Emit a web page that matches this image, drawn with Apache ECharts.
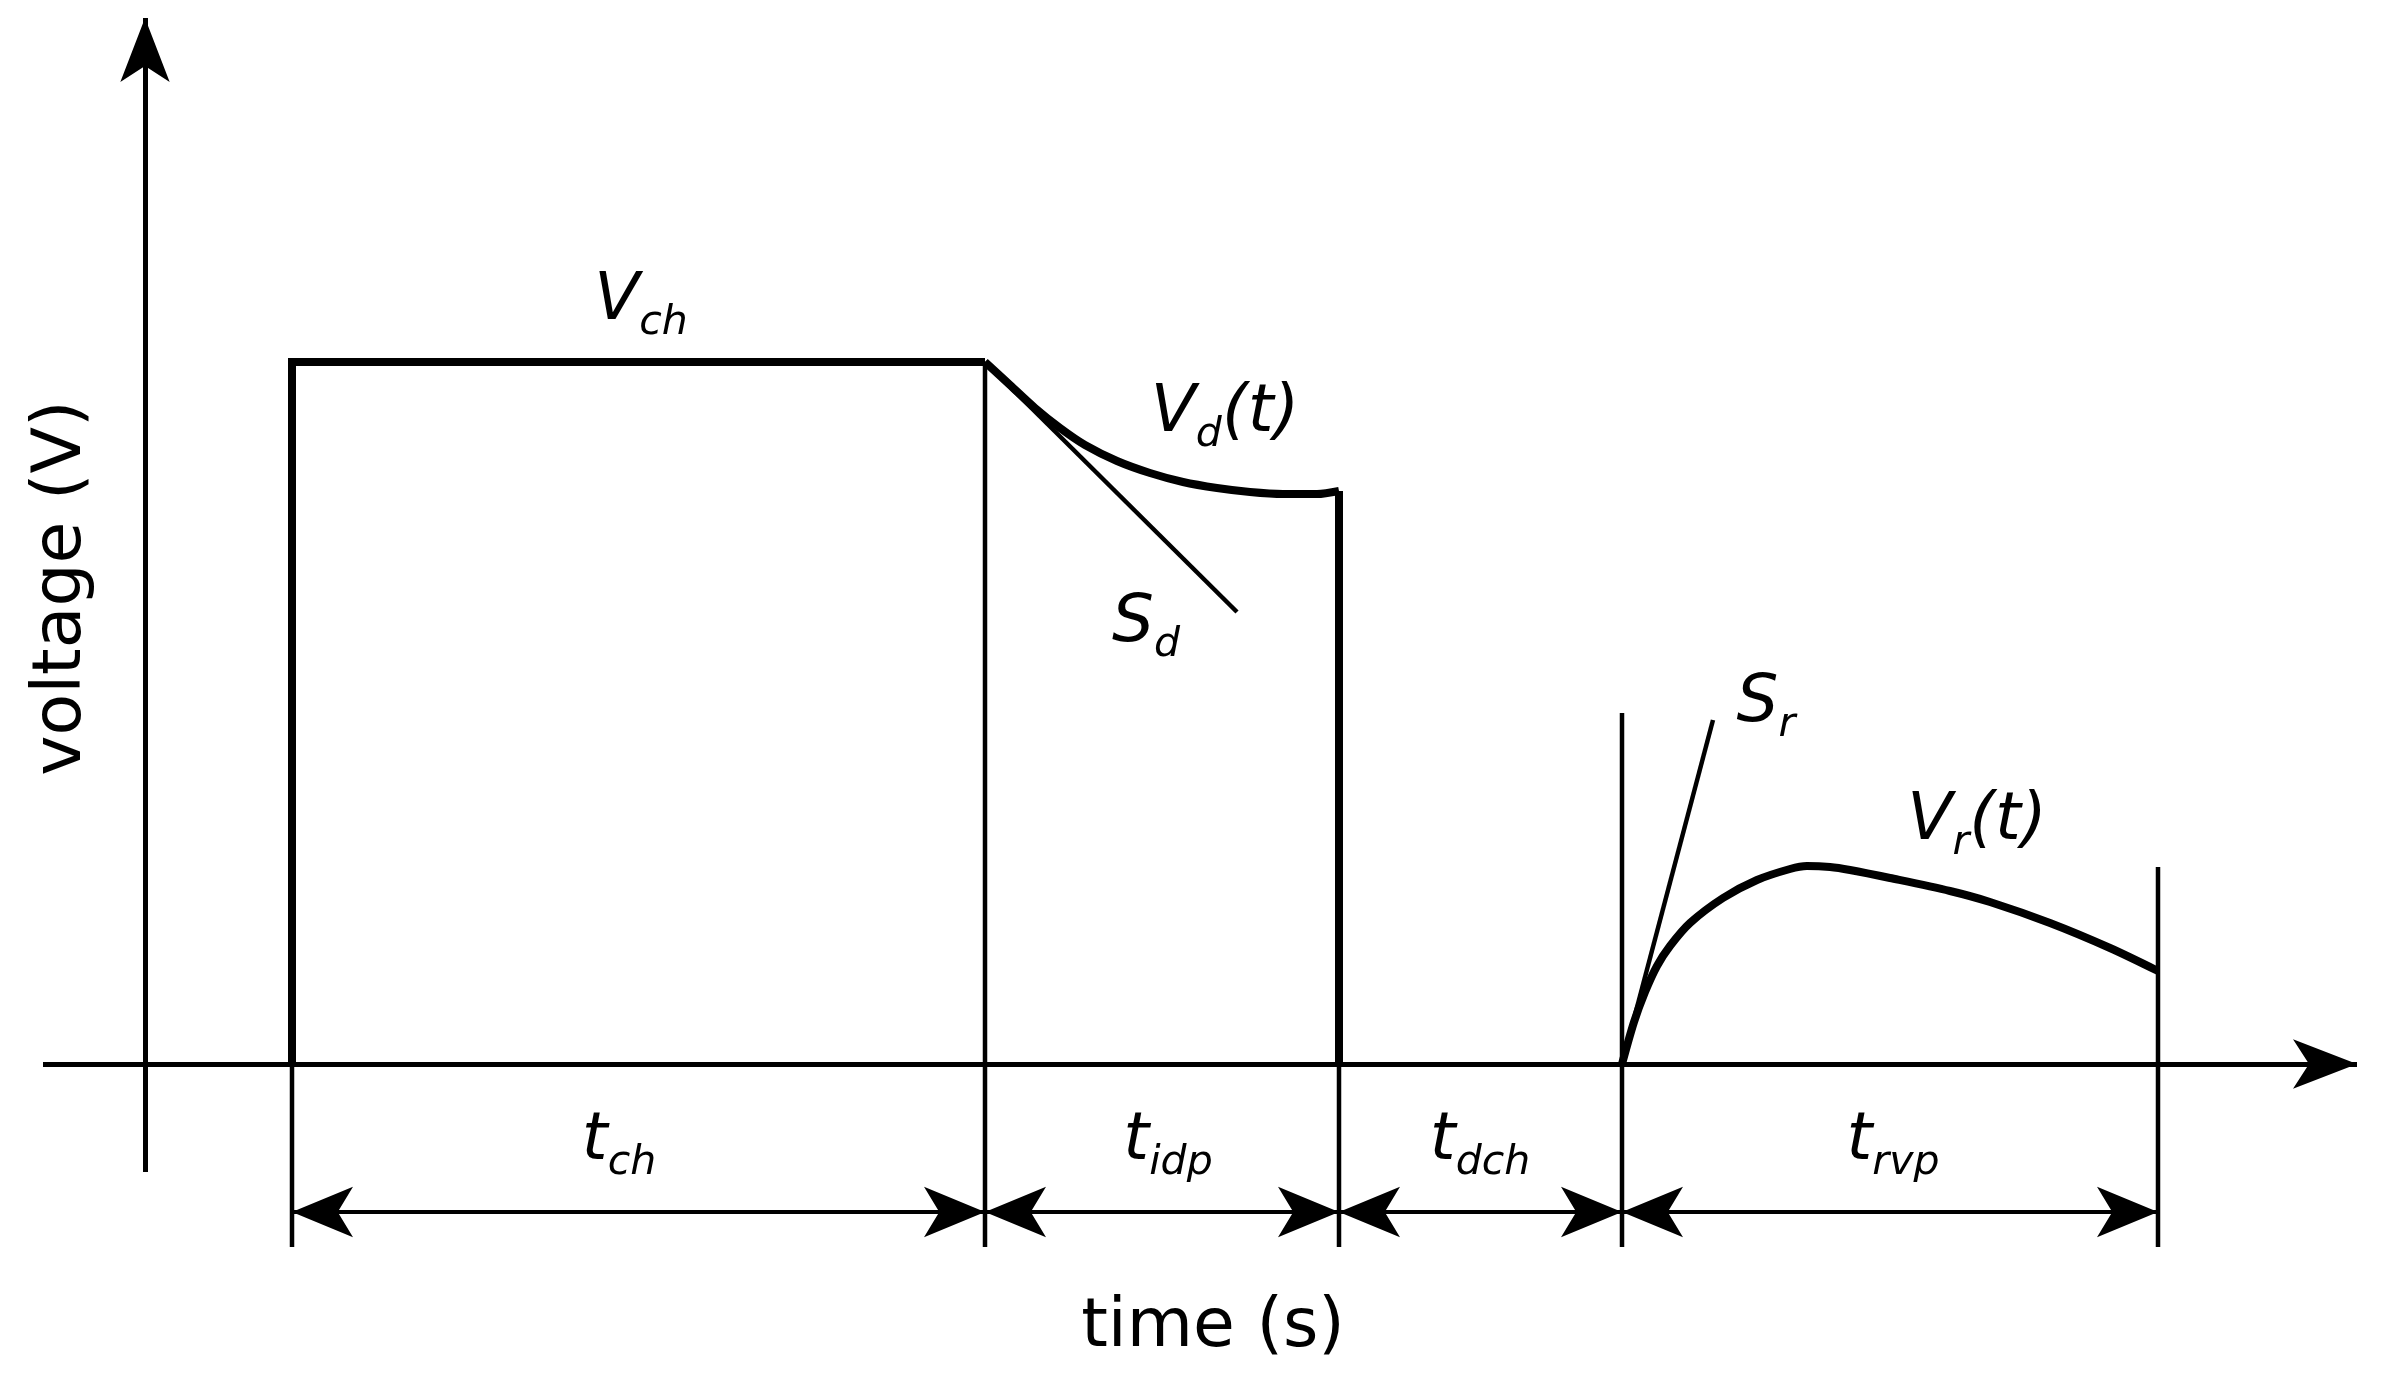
<!DOCTYPE html>
<html><head><meta charset="utf-8">
<script src="https://cdn.jsdelivr.net/npm/echarts@6/dist/echarts.min.js"></script>
<style>html,body{margin:0;padding:0;background:#fff}#c{width:2386px;height:1382px}</style>
</head><body><div id="c"></div>
<script>
// ---- data (time in arbitrary units, voltage in arbitrary units) ----
const pulseT = [1.47, 1.47, 8.40];
const pulseV = [0, 7.02, 7.02];
const decayT = [8.40, 8.65, 8.90, 9.15, 9.40, 9.72, 10.05, 10.38, 10.72, 11.05, 11.38, 11.72, 11.94];
const decayV = [7.02, 6.79, 6.56, 6.36, 6.19, 6.03, 5.91, 5.82, 5.76, 5.72, 5.70, 5.70, 5.73];
const dropT = [11.94, 11.94];
const dropV = [5.73, 0];
const recovT = [14.77, 14.89, 15.00, 15.12, 15.25, 15.45, 15.78, 16.12, 16.45, 16.62, 16.85, 17.05, 17.45, 18.05, 18.45, 19.05, 19.65, 20.13];
const recovV = [0, 0.42, 0.72, 0.98, 1.18, 1.41, 1.66, 1.84, 1.95, 1.98, 1.97, 1.94, 1.86, 1.73, 1.62, 1.41, 1.16, 0.93];
const slopeDT = [8.40, 10.92];
const slopeDV = [7.02, 4.52];
const slopeRT = [14.77, 15.68];
const slopeRV = [0, 3.44];
const boundaryT = [1.47, 8.40, 11.94, 14.77, 20.13];
const boundaryTop = [0, 7.02, 0, 3.51, 1.97];
const boundaryBottom = -1.83;
const dimLevel = -1.48;
const intervalSub = ['ch', 'idp', 'dch', 'rvp'];
const intervalLabelT = [4.74, 10.23, 13.35, 17.48];
const intervalLabelV = -0.78;
const labelBase = ['V', 'V', 'S', 'S', 'V'];
const labelSub = ['ch', 'd', 'd', 'r', 'r'];
const labelTail = ['', '(t)', '', '', '(t)'];
const labelT = [4.96, 10.80, 10.01, 16.21, 18.32];
const labelV = [7.62, 6.50, 4.40, 3.60, 2.42];
const xAxisSpan = [-1.02, 22.12];
const yAxisSpan = [-1.08, 10.46];
const xTitle = 'time (s)';
const yTitle = 'voltage (V)';
const xTitlePos = [10.68, -2.64];
const yTitlePos = [-0.83, 4.76];

// ---- chart ----
const FONT = 'DejaVu Sans';
const chart = echarts.init(document.getElementById('c'), null, {renderer: 'canvas'});
const pts = (ts, vs) => ts.map((t, i) => [t, vs[i]]);
function lineSeries(data, width, smooth) {
  return {type: 'line', data, symbol: 'none', showSymbol: false, smooth: smooth || false, clip: false, silent: true,
    lineStyle: {color: '#000', width, cap: 'butt', join: 'miter'}, z: 3};
}
const series = [];
series.push(lineSeries(pts(pulseT, pulseV), 8));
series.push(lineSeries(pts(decayT, decayV), 8, 0.3));
series.push(lineSeries(pts(dropT, dropV), 8));
series.push(lineSeries(pts(recovT, recovV), 8, 0.3));
series.push(lineSeries(pts(slopeDT, slopeDV), 4.5));
series.push(lineSeries(pts(slopeRT, slopeRV), 4.5));
boundaryT.forEach((t, i) => {
  series.push(lineSeries([[t, boundaryTop[i]], [t, boundaryBottom]], 4.5));
});
// axes drawn as marked arrows
series.push({type: 'line', data: [], clip: false, silent: true,
  markLine: {silent: true, symbol: ['none', 'arrow'], symbolSize: [37, 64],
    label: {show: false}, emphasis: {disabled: true},
    lineStyle: {color: '#000', width: 5, type: 'solid'},
    data: [
      [{coord: [xAxisSpan[0], 0]}, {coord: [xAxisSpan[1], 0]}],
      [{coord: [0, yAxisSpan[0]]}, {coord: [0, yAxisSpan[1]]}]
    ]}});
// dimension arrows
const dims = [];
for (let i = 0; i < boundaryT.length - 1; i++) dims.push([{coord: [boundaryT[i], dimLevel]}, {coord: [boundaryT[i + 1], dimLevel]}]);
series.push({type: 'line', data: [], clip: false, silent: true,
  markLine: {silent: true, symbol: ['arrow', 'arrow'], symbolSize: [38, 61],
    label: {show: false}, emphasis: {disabled: true},
    lineStyle: {color: '#000', width: 4, type: 'solid'},
    data: dims}});
const txt = {color: '#000', opacity: 1, textBorderWidth: 0, textBorderColor: 'transparent', textShadowBlur: 0};
const rich = {
  m: Object.assign({fontFamily: FONT, fontStyle: 'italic', fontSize: 66, lineHeight: 120}, txt),
  s: Object.assign({fontFamily: FONT, fontStyle: 'italic', fontSize: 41, padding: [42, 0, 0, 0]}, txt),
  p: Object.assign({fontFamily: FONT, fontSize: 68}, txt)
};
const textData = [];
labelBase.forEach((b, i) => {
  textData.push({value: [labelT[i], labelV[i]], name: '{m|' + b + '}{s|' + labelSub[i] + '}' + (labelTail[i] ? '{m|' + labelTail[i] + '}' : '')});
});
intervalSub.forEach((s, i) => {
  textData.push({value: [intervalLabelT[i], intervalLabelV], name: '{m|t}{s|' + s + '}'});
});
textData.push({value: xTitlePos, name: '{p|' + xTitle + '}'});
const labelBase0 = Object.assign({show: true, position: 'inside', formatter: p => p.name, rich}, txt);
series.push({type: 'scatter', symbolSize: 0, clip: false, silent: true, data: textData,
  itemStyle: {color: '#000'}, label: labelBase0});
series.push({type: 'scatter', symbolSize: 0, clip: false, silent: true, data: [{value: yTitlePos, name: '{p|' + yTitle + '}'}],
  itemStyle: {color: '#000'}, label: Object.assign({}, labelBase0, {rotate: 90})});

chart.setOption({
  animation: false,
  backgroundColor: '#fff',
  textStyle: {color: '#000'},
  grid: {left: 0, right: 0, top: 0, bottom: 0},
  xAxis: {type: 'value', min: -1.45, max: 22.41, show: false},
  yAxis: {type: 'value', min: -3.18, max: 10.64, show: false},
  series
});
</script></body></html>
